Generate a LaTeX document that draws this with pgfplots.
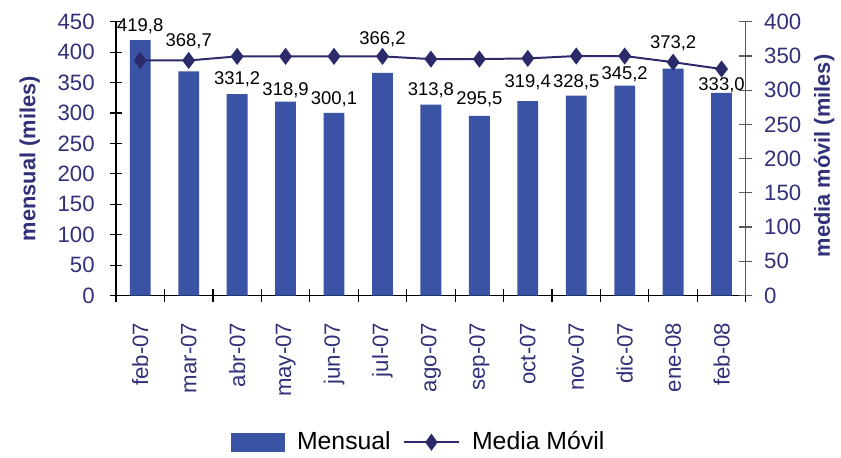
\documentclass[border=0pt]{standalone}
\usepackage{pgfplots}
\pgfplotsset{compat=1.18}
\usepackage{fontspec}
\setmainfont{Liberation Sans}
\definecolor{barblue}{RGB}{58,83,164}
\definecolor{navy}{RGB}{43,42,107}
\definecolor{lbl}{RGB}{50,48,120}

\pgfplotsset{
  common/.style={
    scale only axis, width=317.5pt, height=138pt,
    xmin=-0.5, xmax=12.5, ymin=0,
    tick align=center, major tick length=6.5pt, minor tick length=6.5pt,
    /pgf/number format/assume math mode=true,
    tick label style={font=\fontsize{11.2}{13}\selectfont, text=lbl},
    label style={font=\bfseries\fontsize{11}{13}\selectfont, text=lbl},
    clip=false,
  }
}

\begin{document}
\begin{tikzpicture}
\begin{axis}[common,
  ymax=450, ytick={0,50,...,450},
  axis y line*=left, axis x line*=bottom,
  axis line style={black, line width=0.6pt},
  tick style={black, line width=0.6pt},
  xtick={0,...,12},
  xticklabels={feb-07,mar-07,abr-07,may-07,jun-07,jul-07,ago-07,sep-07,oct-07,nov-07,dic-07,ene-08,feb-08},
  minor xtick={-0.5,0.5,...,12.5},
  major x tick style={draw=none},
  x tick label style={rotate=90, anchor=east, xshift=-7pt},
  y tick label style={xshift=-4pt},
  ylabel={mensual (miles)},
  ylabel style={at={(axis description cs:-0.137,0.5)}, anchor=center},
]
\addplot[ybar, bar width=10.5pt, fill=barblue, draw=none] coordinates {
  (0,419.8) (1,368.7) (2,331.2) (3,318.9) (4,300.1) (5,366.2) (6,313.8)
  (7,295.5) (8,319.4) (9,328.5) (10,345.2) (11,373.2) (12,333.0)
};
% data labels (positions on the left scale)
\addplot[draw=none, mark=none, nodes near coords, point meta=explicit symbolic,
  nodes near coords style={anchor=center, font=\fontsize{9.3}{10}\selectfont, text=black}]
  coordinates {
  (0,442)[419{,}8] (1,418)[368{,}7] (2,356)[331{,}2] (3,338)[318{,}9] (4,323)[300{,}1]
  (5,421)[366{,}2] (6,338)[313{,}8] (7,322)[295{,}5] (8,351)[319{,}4] (9,351)[328{,}5]
  (10,364)[345{,}2] (11,414)[373{,}2] (12,346)[333{,}0]
};
\end{axis}
\begin{axis}[common,
  ymax=400, ytick={0,50,...,400},
  axis y line*=right, axis x line=none,
  axis line style={gray!70!black, line width=0.6pt},
  tick style={gray!70!black, line width=0.6pt},
  y tick label style={xshift=2.5pt},
  ylabel={media móvil (miles)},
  ylabel style={at={(axis description cs:1.1244,0.51)}, anchor=center},
  legend style={at={(0.482,-0.536)}, anchor=center, legend columns=2, draw=none,
    inner sep=0pt, font=\fontsize{12.5}{14}\selectfont, column sep=4pt},
]
\addlegendimage{legend image code/.code={\fill[barblue] (0pt,-4.5pt) rectangle (27pt,4.5pt);}}
\addlegendentry{Mensual}
\addplot[navy, line width=1pt, mark=diamond*, mark size=3.5pt, mark options={fill=navy},
  legend image code/.code={
    \draw[navy, line width=1pt] (0pt,0pt) -- (28pt,0pt);
    \fill[navy] (14pt,0pt) +(0,3.5pt) -- +(2.5pt,0) -- +(0,-3.5pt) -- +(-2.5pt,0) -- cycle;}]
  coordinates {
  (0,343.5) (1,343.5) (2,349.5) (3,349.5) (4,349.5) (5,349.5) (6,345.5)
  (7,345.5) (8,346.5) (9,350) (10,350) (11,341) (12,331)
};
\addlegendentry{Media Móvil}
\path (axis description cs:0,0) -- ++(-58.5pt,-81.5pt);
\path (axis description cs:1,1) -- ++(44.5pt,11pt);
\end{axis}
\end{tikzpicture}
\end{document}
